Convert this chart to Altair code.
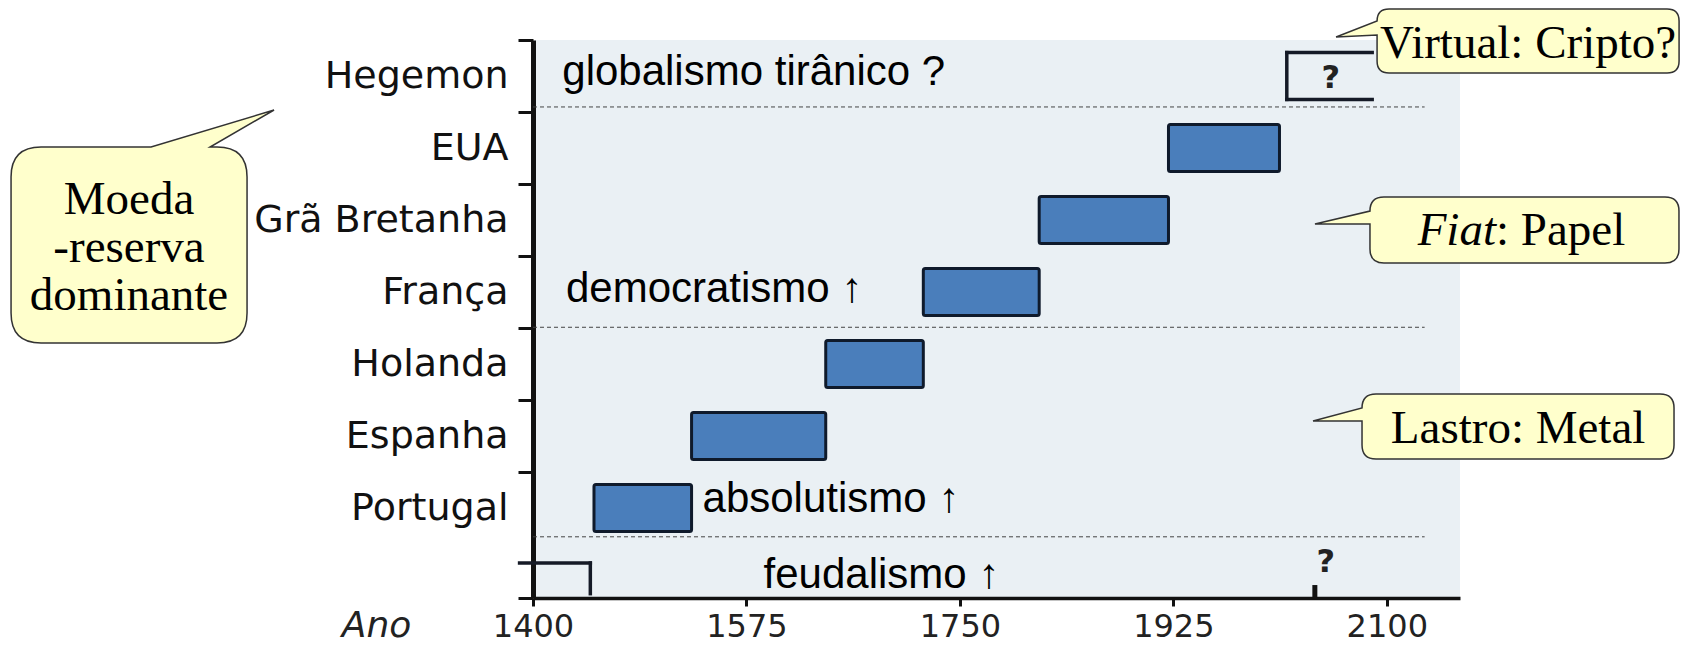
import altair as alt
import pandas as pd

# ---------------- data ----------------
row_labels = ["Portugal", "Espanha", "Holanda", "França", "Grã Bretanha", "EUA", "Hegemon"]  # rows 1..7 (bottom -> top)
bar_countries = ["Portugal", "Espanha", "Holanda", "França", "Grã Bretanha", "EUA"]
bar_start = [1450, 1530, 1640, 1720, 1815, 1921]
bar_end = [1530, 1640, 1720, 1815, 1921, 2012]

year_ticks = [1400, 1575, 1750, 1925, 2100]
year_domain = [1400, 2160]
row_domain = [-0.25, 7.5]

open_start = 2018        # Hegemon "?" open box
open_end = 2088
feudal_from = 1389
feudal_end = 1447
future_mark_year = 2041

era_texts = ["globalismo tirânico ?", "democratismo ↑", "absolutismo ↑", "feudalismo ↑"]
era_years = [1424, 1427, 1539, 1589]
era_rows = [6.875, 3.861, 0.944, -0.111]
sep_rows = [6.57, 3.51, 0.6]
sep_end_year = 2131

q_texts = ["?", "?"]
q_years = [2054, 2050]
q_rows = [6.833, 0.111]

callout_tip_years = [1187.7, 2058.4, 2041.1, 2039.5]
callout_tip_rows = [6.528, 7.542, 4.944, 2.208]

callout_texts = ["Moeda\n-reserva\ndominante", "Virtual: Cripto?", "Lastro: Metal"]
callout_text_years = [1068.8, 2215.8, 2207.6]
callout_text_rows = [5.09, 7.25, 1.903]
fiat_word = "Fiat"
fiat_rest = ": Papel"
fiat_year = 2189.5
fiat_row = 4.653

# ---------------- helpers ----------------
def callout_path(L, R, T, B, r, side, b1, b2):
    if side == "top":
        pts = (f"M{L+r},{T} L{b1},{T} L0,0 L{b2},{T} L{R-r},{T} Q{R},{T} {R},{T+r} "
               f"L{R},{B-r} Q{R},{B} {R-r},{B} L{L+r},{B} Q{L},{B} {L},{B-r} "
               f"L{L},{T+r} Q{L},{T} {L+r},{T} Z")
    else:
        pts = (f"M{L+r},{T} L{R-r},{T} Q{R},{T} {R},{T+r} L{R},{B-r} Q{R},{B} {R-r},{B} "
               f"L{L+r},{B} Q{L},{B} {L},{B-r} L{L},{b2} L0,0 L{L},{b1} "
               f"L{L},{T+r} Q{L},{T} {L+r},{T} Z")
    return pts

callout_shapes = [
    callout_path(-263, -27, 37, 233, 30, "top", -123, -64),
    callout_path(41, 343, -28, 36, 12, "left", -16, -2),
    callout_path(55, 364, -27, 39, 14, "left", -13, 0),
    callout_path(49, 361, -27, 38, 14, "left", -13, 0),
]

xs = alt.Scale(domain=year_domain, nice=False, zero=False)
ys = alt.Scale(domain=row_domain, nice=False, zero=False)

boundaries = [i + 1.5 for i in range(len(row_labels))]
label_expr = " : ".join(f"datum.value == {b} ? '{lab}'" for b, lab in zip(boundaries, row_labels)) + " : ''"

y_axis = alt.Axis(values=boundaries + [row_domain[0]], labelExpr=label_expr, labelOffset=36,
                  tickSize=15, tickWidth=3, tickColor="#111", domainWidth=5, domainColor="#111",
                  labelFont="DejaVu Sans", labelFontSize=38, labelColor="#111", labelPadding=10,
                  labelAlign="right", labelBaseline="middle", labelOverlap=False, labelFlush=False,
                  labelLimit=500, grid=False, title=None)
x_axis = alt.Axis(values=year_ticks, format="d", tickSize=8, tickWidth=3, tickColor="#111",
                  domainWidth=3.5, domainColor="#111", labelFont="DejaVu Sans", labelFontSize=32,
                  labelColor="#222", labelPadding=30, labelBaseline="alphabetic", labelFlush=False,
                  labelOverlap=False, grid=False, title="Ano", titleFont="DejaVu Sans",
                  titleFontSize=36, titleFontStyle="italic", titleFontWeight="normal",
                  titleColor="#222", titleX=-157, titleY=38, titleAlign="center",
                  titleBaseline="alphabetic")

def X(f):
    return alt.X(f, type="quantitative", scale=xs, axis=x_axis, title="Ano")

def Y(f):
    return alt.Y(f, type="quantitative", scale=ys, axis=y_axis, title=None)

# ---------------- tables ----------------
bars_df = pd.DataFrame({"pais": bar_countries, "inicio": bar_start, "fim": bar_end})
bars_df["row"] = [row_labels.index(c) + 1 for c in bar_countries]
half = 0.325
bars_df["top"] = bars_df["row"] + half
bars_df["bot"] = bars_df["row"] - half

heg_row = row_labels.index("Hegemon") + 1
brackets_df = pd.DataFrame({
    "x": [open_start, open_start, open_start, feudal_from, feudal_end],
    "x2": [open_end, open_end, open_start, feudal_end, feudal_end],
    "y": [heg_row + half, heg_row - half, heg_row - half, 0.236, -0.19],
    "y2": [heg_row + half, heg_row - half, heg_row + half, 0.236, 0.236],
})
future_df = pd.DataFrame({"x": [future_mark_year], "y": [row_domain[0]], "y2": [-0.07]})

sep_df = pd.DataFrame({"x": [year_domain[0]] * len(sep_rows), "x2": [sep_end_year] * len(sep_rows), "y": sep_rows})
era_df = pd.DataFrame({"t": era_texts, "x": era_years, "y": era_rows})
q_df = pd.DataFrame({"t": q_texts, "x": q_years, "y": q_rows})
callout_df = pd.DataFrame({"x": callout_tip_years, "y": callout_tip_rows, "shape": callout_shapes})
ctext_df = pd.DataFrame({"t": callout_texts, "x": callout_text_years, "y": callout_text_rows})
fiat_df = pd.DataFrame({"a": [fiat_word], "b": [fiat_rest], "x": [fiat_year], "y": [fiat_row]})

# ---------------- layers ----------------
sep = alt.Chart(sep_df).mark_rule(strokeDash=[4, 3], strokeWidth=1, color="#444").encode(
    x=X("x"), x2="x2", y=Y("y"))

bars = alt.Chart(bars_df).mark_rect(fill="#4A7EBB", stroke="#0F1A2B", strokeWidth=3,
                                    cornerRadius=2).encode(
    x=X("inicio"), x2="fim", y=Y("top"), y2="bot")

brackets = alt.Chart(brackets_df).mark_rule(color="#151a26", strokeWidth=3.5, strokeCap="square").encode(
    x=X("x"), x2="x2", y=Y("y"), y2="y2")

future = alt.Chart(future_df).mark_rule(color="#111", strokeWidth=5).encode(
    x=X("x"), y=Y("y"), y2="y2")

eras = alt.Chart(era_df).mark_text(font="Liberation Sans", fontSize=42, align="left",
                                   baseline="alphabetic", color="#000").encode(
    x=X("x"), y=Y("y"), text="t")

qs = alt.Chart(q_df).mark_text(font="DejaVu Sans", fontSize=32, fontWeight="bold", align="center",
                               baseline="alphabetic", color="#222").encode(
    x=X("x"), y=Y("y"), text="t")

callouts = alt.Chart(callout_df).mark_point(filled=True, fill="#FFFFCC", stroke="#333333",
                                            strokeWidth=1.5, opacity=1, fillOpacity=1,
                                            strokeOpacity=1, size=4).encode(
    x=X("x"), y=Y("y"), shape=alt.Shape("shape:N", scale=None, legend=None))

ctexts = alt.Chart(ctext_df).mark_text(font="Liberation Serif", fontSize=47, align="center",
                                       baseline="alphabetic", lineBreak="\n", lineHeight=48,
                                       color="#000").encode(
    x=X("x"), y=Y("y"), text="t")

fiat_a = alt.Chart(fiat_df).mark_text(font="Liberation Serif", fontSize=47, fontStyle="italic",
                                      align="right", baseline="alphabetic", color="#000").encode(
    x=X("x"), y=Y("y"), text="a")
fiat_b = alt.Chart(fiat_df).mark_text(font="Liberation Serif", fontSize=47, align="left",
                                      baseline="alphabetic", color="#000").encode(
    x=X("x"), y=Y("y"), text="b")

chart = alt.layer(bars, sep, brackets, future, eras, qs, callouts, ctexts, fiat_a, fiat_b).properties(
    width=927, height=558,
    padding={"left": 525, "top": 32, "right": 221, "bottom": 52},
    autosize=alt.AutoSizeParams(type="none"),
    background="white",
).configure_view(stroke=None, fill="#EAF0F4")

chart.save("out.html", embed_options={"renderer": "svg", "actions": False})
